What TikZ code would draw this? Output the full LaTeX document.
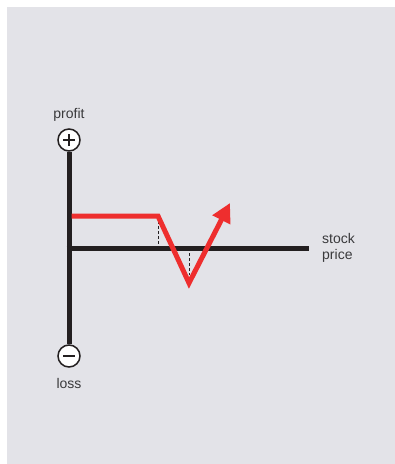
\documentclass[tikz,border=0pt]{standalone}
\usepackage{fontspec}
\setmainfont{Liberation Sans}
\usepackage{tikz}
\usetikzlibrary{arrows.meta, positioning, calc}
\definecolor{bggray}{HTML}{E3E3E8}
\definecolor{axisdark}{HTML}{231F20}
\definecolor{payred}{HTML}{EE2E2E}
\definecolor{txtgray}{HTML}{3A3A3C}

\begin{document}
\begin{tikzpicture}[x=1pt, y=-1pt,
  signcirc/.style={circle, draw=axisdark, fill=white, line width=1.5pt, minimum size=22pt, inner sep=0pt},
  axisline/.style={draw=axisdark, line width=5pt},
  lbl/.style={text=txtgray, font=\fontsize{14}{16}\selectfont, inner sep=1pt},
  guide/.style={draw=axisdark, line width=0.8pt, dash pattern=on 3pt off 2pt}]
\useasboundingbox (0,0) rectangle (395,464);
\fill[bggray] (7,7) rectangle (395,464);
% axes
\node[signcirc] (plus) at (69,140) {};
\node[signcirc] (minus) at (69,356) {};
\coordinate (origin) at (69,248);
\coordinate (xend) at (309,248);
\draw[axisline] (plus.south) -- (minus.north);
\draw[axisline] ([xshift=-2.5pt]origin) -- (xend);
\draw[line width=2.2pt, axisdark] ([xshift=-6pt]plus.center) -- ([xshift=6pt]plus.center);
\draw[line width=2.2pt, axisdark] ([yshift=-6pt]plus.center) -- ([yshift=6pt]plus.center);
\draw[line width=2.2pt, axisdark] ([xshift=-6pt]minus.center) -- ([xshift=6pt]minus.center);
\node[lbl, above=6pt of plus] (profit) {profit};
\node[lbl, below=9pt of minus] (loss) {loss};
\node[lbl, right=12pt of xend, align=left] (stock) {stock\\price};
% payoff
\coordinate (flat) at (71.5,216);
\coordinate (kink) at (158,216);
\coordinate (low) at (189,283);
\coordinate (tip) at (230,203);
\draw[guide] (kink) -- (kink |- origin);
\draw[guide] (origin -| low) -- ($(low)+(0,-8)$);
\draw[payred, line width=5pt, miter limit=10, -{Triangle[length=19pt, width=19pt]}] (flat) -- (kink) -- (low) -- (tip);
\end{tikzpicture}
\end{document}
